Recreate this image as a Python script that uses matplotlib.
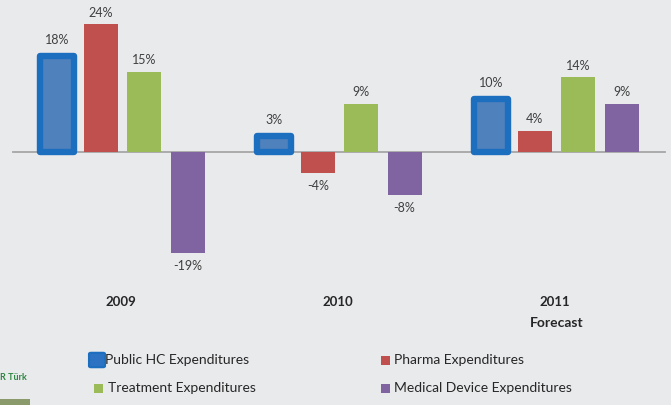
import matplotlib
matplotlib.use("Agg")
import matplotlib.pyplot as plt
from matplotlib.patches import Rectangle, FancyBboxPatch
import numpy as np

plt.rcParams['font.family'] = ['Lato', 'DejaVu Sans']

groups = ["2009", "2010", "2011"]
group_sub = ["", "", "Forecast"]
series = ["Public HC Expenditures", "Pharma Expenditures",
          "Treatment Expenditures", "Medical Device Expenditures"]
public_hc = [18, 3, 10]
pharma = [24, -4, 4]
treatment = [15, 9, 14]
medical = [-19, -8, 9]
values = [public_hc, pharma, treatment, medical]
colors = ["#4f81bd", "#c0504d", "#9bbb59", "#8064a2"]
bg = "#e9eaec"

W, H = 671, 405
fig = plt.figure(figsize=(W / 100, H / 100), dpi=100, facecolor=bg)
ax = fig.add_axes([0, 0, 1, 1], facecolor=bg)

pxu = 217.0      # px per group unit
pyu = 5.33       # px per percent
zero_y = 152.0
cx0 = 122.5
ax.set_xlim(-cx0 / pxu, (W - cx0) / pxu)
ax.set_ylim(-(H - zero_y) / pyu, zero_y / pyu)
ax.axis("off")

x = np.arange(len(groups))
offsets = [-0.300, -0.100, 0.100, 0.300]
width = 0.157

ax.axhline(0, xmin=13 / W, xmax=665 / W, color="#a6a6a6", lw=1.3, zorder=1)

for i, (vals, col) in enumerate(zip(values, colors)):
    if i == 0:
        bars = ax.bar(x + offsets[i], vals, width, color=col,
                      edgecolor="#1c6ebf", linewidth=4.6, zorder=3)
        for b in bars:
            b.set_joinstyle("round")
    else:
        bars = ax.bar(x + offsets[i], vals, width, color=col,
                      edgecolor="none", zorder=3)
    for xi, v in zip(x + offsets[i], vals):
        extra = 3 if i == 0 else 0
        if v >= 0:
            ax.annotate(f"{v}%", (xi, v), xytext=(0, 4 + extra),
                        textcoords="offset points", ha="center", va="bottom",
                        fontsize=9, color="#404040")
        else:
            ax.annotate(f"{v}%", (xi, v), xytext=(0, -5 - extra),
                        textcoords="offset points", ha="center", va="top",
                        fontsize=9, color="#404040")

for xi, g, s in zip(x, groups, group_sub):
    ax.text(xi - 0.008, -(302 - zero_y) / pyu, g, ha="center", va="center",
            fontsize=9.5, fontweight="bold", color="#262626")
    if s:
        ax.text(xi, -(323 - zero_y) / pyu, s, ha="center", va="center",
                fontsize=10, fontweight="bold", color="#262626")

# legend (manual placement)
leg_pos = [(97, 360), (385, 360), (99, 388), (385, 388)]
for i, (name, col) in enumerate(zip(series, colors)):
    mx, my = leg_pos[i]
    if i == 0:
        s = 16
        p = FancyBboxPatch(((mx - s / 2 + 2) / W, 1 - (my + s / 2 - 2) / H),
                           (s - 4) / W, (s - 4) / H,
                           boxstyle="round,pad=0.003", transform=fig.transFigure,
                           facecolor="#2b72c2", edgecolor="#1c6ebf", lw=1.5)
        fig.patches.append(p)
        tx = 105
    else:
        s = 9
        p = Rectangle(((mx - s / 2) / W, 1 - (my + s / 2) / H), s / W, s / H,
                      transform=fig.transFigure, facecolor=col, edgecolor="none")
        fig.patches.append(p)
        tx = mx + 9
    fig.text(tx / W, 1 - my / H, name, ha="left", va="center",
             fontsize=10, color="#262626")

# logo fragment
fig.text(0, 1 - 378 / H, "R Türk", ha="left", va="center", fontsize=6.5,
         fontweight="bold", color="#2e8540")
fig.patches.append(Rectangle((0, 0), 30 / W, 6 / H, transform=fig.transFigure,
                             facecolor="#8a9a6a", edgecolor="none"))

fig.savefig("out.png", dpi=100, facecolor=bg)
